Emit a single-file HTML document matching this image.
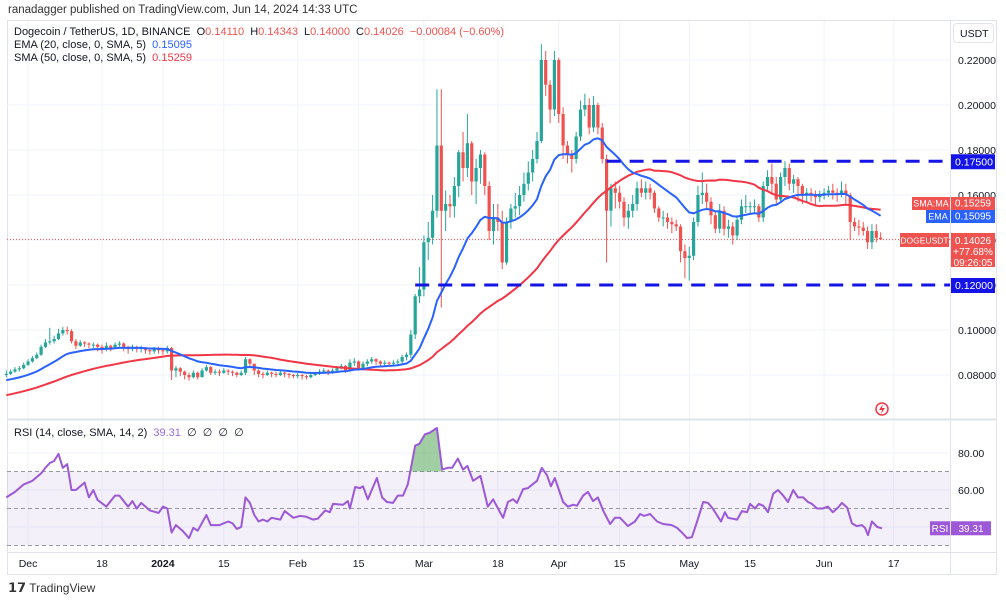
<!DOCTYPE html>
<html><head><meta charset="utf-8">
<style>
body{margin:0;background:#fff;font-family:"Liberation Sans",sans-serif;}
#wrap{position:relative;width:1006px;height:600px;overflow:hidden;background:#fff}
.t{position:absolute;font-size:11px;color:#131722;white-space:nowrap}
</style></head><body>
<div id="wrap">
<div class="t" style="left:8px;top:4px;font-size:11.5px;color:#333">ranadagger published on TradingView.com, Jun 14, 2024 14:33 UTC</div>
<svg id="svg" width="1006" height="600" style="position:absolute;left:0;top:0"></svg>
<div class="t" style="left:14px;top:26px">Dogecoin / TetherUS, 1D, BINANCE&nbsp; O<span style="color:#ef5350">0.14110</span>&nbsp; H<span style="color:#ef5350">0.14343</span>&nbsp; L<span style="color:#ef5350">0.14000</span>&nbsp; C<span style="color:#ef5350">0.14026&nbsp; −0.00084 (−0.60%)</span></div>
<div class="t" style="left:14px;top:39px">EMA (20, close, 0, SMA, 5)&nbsp; <span style="color:#2962ff">0.15095</span></div>
<div class="t" style="left:14px;top:52px">SMA (50, close, 0, SMA, 5)&nbsp; <span style="color:#f23645">0.15259</span></div>
<div class="t" style="left:14px;top:426px">RSI (14, close, SMA, 14, 2)&nbsp; <span style="color:#9c6ade">39.31</span>&nbsp; ∅&nbsp; ∅&nbsp; ∅&nbsp; ∅</div>
<div class="t" style="left:8px;top:580px;font-size:12px;color:#333"><b style="font-size:13px">𝟭𝟳</b> TradingView</div>
</div>
<script>
const closes=[.0805,.0815,.0825,.0830,.0845,.0860,.0875,.0890,.0925,.0945,.0950,.0960,.0985,.1000,.0995,.0950,
.0930,.0945,.0940,.0935,.0935,.0925,.0915,.0930,.0920,.0935,.0940,.0925,.0915,.0925,.0915,.0920,.0910,.0905,.0915,.0910,
.0905,.0920,.0820,.0830,.0815,.0800,.0790,.0810,.0790,.0820,.0835,.0810,.0815,.0810,.0820,.0815,.0810,.0800,.0810,
.0870,.0850,.0820,.0805,.0800,.0810,.0805,.0800,.0810,.0805,.0800,.0795,.0800,.0795,.0790,.0800,.0805,.0815,.0820,.0815,.0820,.0830,.0840,.0820,.0855,.0860,.0830,.0850,.0860,.0870,.0860,.0850,.0855,.0850,.0855,.0860,.0880,
.0890,.0980,.1150,.1180,.1390,.1410,.1530,.1820,.1530,.1560,.1550,.1640,.1790,.1720,.1830,.1660,.1720,.1780,.1640,.1440,
.1500,.1480,.1300,.1480,.1540,.1550,.1600,.1650,.1700,.1760,.1840,.2200,.2090,.1980,.2200,.1960,.1820,.1780,.1760,.1860,.1980,.2000,.1900,.2000,.1900,.1760,.1530,.1630,.1610,.1570,.1500,.1530,.1560,.1630,.1610,.1630,.1610,.1540,.1500,.1500,.1480,.1470,.1460,.1350,.1320,.1330,.1480,.1600,.1610,.1570,.1510,.1450,.1530,.1450,.1460,.1420,.1490,.1550,.1550,.1550,.1550,.1500,.1640,.1680,.1650,.1580,.1680,.1720,.1650,.1670,.1640,.1600,.1610,.1600,.1590,
.1600,.1610,.1620,.1610,.1600,.1620,.1600,.1480,.1460,.1455,.1440,.1390,.1440,.1410,.1403];
const highs=[.0820,.0825,.0835,.0840,.0855,.0870,.0885,.0900,.0935,.0960,.1010,.0975,.1005,.1013,.1015,.1003,
.0960,.0955,.0950,.0945,.0945,.0940,.0935,.0945,.0935,.0945,.0950,.0945,.0930,.0935,.0930,.0930,.0925,.0920,.0925,.0925,
.0920,.0930,.0925,.0840,.0835,.0820,.0810,.0820,.0815,.0830,.0845,.0840,.0825,.0825,.0830,.0825,.0820,.0815,.0820,
.0880,.0875,.0850,.0825,.0815,.0820,.0815,.0815,.0820,.0815,.0810,.0805,.0810,.0805,.0800,.0810,.0815,.0825,.0830,.0825,.0830,.0840,.0850,.0845,.0870,.0875,.0865,.0860,.0870,.0880,.0875,.0865,.0865,.0860,.0865,.0870,.0890,
.0900,.1000,.1160,.1280,.1420,.1480,.1600,.2070,.2070,.1620,.1600,.1680,.1800,.1880,.1960,.1840,.1760,.1800,.1790,.1660,
.1560,.1560,.1530,.1500,.1560,.1610,.1640,.1700,.1750,.1800,.1880,.2270,.2240,.2110,.2240,.2210,.1990,.1840,.1800,.1880,.2020,.2050,.2030,.2040,.2010,.1920,.1780,.1650,.1660,.1640,.1590,.1560,.1600,.1660,.1670,.1660,.1650,.1620,.1550,.1530,.1520,.1500,.1490,.1470,.1380,.1370,.1500,.1640,.1700,.1650,.1590,.1530,.1560,.1550,.1490,.1480,.1510,.1580,.1600,.1570,.1580,.1560,.1660,.1710,.1740,.1680,.1700,.1750,.1740,.1690,.1680,.1650,.1630,.1630,.1620,
.1620,.1630,.1640,.1650,.1630,.1660,.1650,.1610,.1500,.1490,.1480,.1460,.1470,.1470,.1434];
const lows=[.0790,.0800,.0810,.0815,.0825,.0840,.0855,.0870,.0885,.0920,.0935,.0940,.0955,.0975,.0980,.0940,
.0915,.0925,.0925,.0920,.0920,.0905,.0895,.0905,.0905,.0915,.0925,.0905,.0895,.0905,.0900,.0900,.0895,.0890,.0895,.0895,
.0890,.0895,.0778,.0790,.0795,.0780,.0775,.0785,.0780,.0790,.0815,.0800,.0800,.0795,.0805,.0800,.0795,.0790,.0795,
.0800,.0835,.0800,.0790,.0785,.0795,.0790,.0790,.0795,.0790,.0785,.0785,.0785,.0780,.0780,.0785,.0795,.0800,.0805,.0800,.0805,.0815,.0825,.0810,.0815,.0840,.0820,.0820,.0840,.0850,.0845,.0835,.0840,.0840,.0840,.0845,.0850,
.0865,.0875,.0960,.1120,.1150,.1310,.1380,.1500,.1100,.1440,.1500,.1500,.1590,.1660,.1680,.1600,.1560,.1650,.1600,.1400,
.1380,.1440,.1270,.1290,.1450,.1500,.1510,.1570,.1620,.1660,.1740,.1830,.2040,.1920,.1950,.1920,.1760,.1740,.1700,.1740,.1840,.1950,.1870,.1880,.1870,.1740,.1300,.1460,.1540,.1540,.1460,.1450,.1500,.1530,.1590,.1580,.1580,.1520,.1480,.1460,.1450,.1430,.1440,.1300,.1230,.1220,.1310,.1460,.1560,.1540,.1470,.1430,.1430,.1420,.1410,.1380,.1400,.1470,.1520,.1520,.1520,.1480,.1480,.1620,.1610,.1560,.1570,.1640,.1620,.1610,.1570,.1560,.1570,.1570,.1550,
.1570,.1580,.1590,.1580,.1570,.1590,.1560,.1400,.1440,.1420,.1420,.1360,.1360,.1390,.1400];
const priorCloses=[.0605,.0610,.0600,.0598,.0602,.0606,.0612,.0608,.0603,.0600,.0610,.0615,.0612,.0620,.0625,.0630,.0640,.0660,.0670,.0665,
.0680,.0690,.0700,.0720,.0740,.0760,.0750,.0730,.0740,.0755,.0765,.0770,.0790,.0780,.0770,.0765,.0760,.0770,.0775,.0780,.0790,.0785,.0780,.0790,.0800,.0805,.0795,.0790,.0785,.0800];
const rsiDay=[0,2,4,6,8,9,10,11,12,13,14,15,16,18,19,20,21,23,25,26,28,29,30,31,33,35,36,37,38,39,40.5,42,43,44,46,47,49,51,52,53,54,55,56,57,58,59,60,61,63,64,66,67.5,69,70.5,71.6,73.3,74.4,75.1,77.4,78.5,79,80.2,81.3,82,83.1,85.2,86.4,87.5,88.9,90,91.2,92.3,94,95,96.2,97.4,99,100.2,101.5,102.5,103.8,105,106,107.3,109,110.7,111.9,113.5,114.2,115.3,116.5,117.4,118.8,119.9,122,123.1,124.3,125.2,126.1,128,129.1,130.3,131.2,132.6,133.7,134.9,136,137.2,138.8,139.9,141.1,142.9,144.5,145.7,146.6,148,149.6,151,153,154.2,155.3,156.5,157.6,158.8,160.2,161.3,162.4,164.3,165.2,165.9,168,169.1,170.3,171,172.1,173,174,175.1,176.3,177.4,178.6,179.7,180.9,182,183.2,184.3,185.2,186.4,187.7,188.9,190,191.2,192.1,193.3,194.4,195.5,196.7,197.4,198.1,199,200.2,201.3];
const rsiVal=[56,59,63,65,69,72,74.6,75.7,79.5,72,74,60,60,64,56,60,54.6,51,57,57,51,54,50,53,49,47.6,51,50,37,41,38,34,39.5,38,46.5,41,41,43,42,39,40,56,53,46.5,43,44,43,45,44,48.6,45,46,45.5,44,44.5,49,48,52.5,52,54,50,61.6,61,62,55,66.5,56,53.5,53,57,57,63,84,85,90,91,93.5,71,72,72,77,71,73,65,67.6,51,55,48,45,53.5,55,53,60.5,61,65,72,68,62,66.5,53.5,51,52,51.5,57,59,54,56,49,41.6,45,45,40.5,43,47,46,47,43,41.6,41,39.5,37,34,34.5,43,53.5,53,50,43,48,45,44,48.6,48,52.5,50,52.5,51.5,48,58,60,57,53.5,60,56,56,53.5,52.5,50,50,51,48,50.5,53,50.5,42,40.5,41,39.5,35.6,43,40,39.31];
const priceTicks=[0.22,0.20,0.18,0.16,0.14,0.12,0.10,0.08];
const rsiTicks=[80,60];
const timeLabels=["Dec","18","2024","15","Feb","15","Mar","18","Apr","15","May","15","Jun","17"];
const timeIdx=[5,22,36,50,67,81,96,113,127,141,157,171,188,204];
const levels=[0.175,0.12];
const levelStart=[138,94];

const NS="http://www.w3.org/2000/svg";
const svg=document.getElementById('svg');
function el(tag,attrs,parent){const e=document.createElementNS(NS,tag);for(const k in attrs)e.setAttribute(k,attrs[k]);(parent||svg).appendChild(e);return e;}
const X=i=>6.3+i*4.35;
const Y=p=>240-(p-0.14)*2250;
const RY=v=>490-(v-60)*1.85;
const L=7,R=950;

const frame=el('rect',{x:7.5,y:20.5,width:989,height:554,fill:'none',stroke:'#e0e3eb'});

timeIdx.forEach((ix,k)=>{const g=el('line',{x1:X(ix),x2:X(ix),y1:21,y2:552,stroke:'#f0f3fa'});
});
priceTicks.forEach(p=>{const g=el('line',{x1:L,x2:R,y1:Y(p),y2:Y(p),stroke:'#f0f3fa'});
});
[80,60,40].forEach(v=>{const g=el('line',{x1:L,x2:R,y1:RY(v),y2:RY(v),stroke:'#f0f3fa'});
});
let s=el('line',{x1:950.5,x2:950.5,y1:20,y2:574,stroke:'#e0e3eb'});
s=el('line',{x1:7,x2:997,y1:419.5,y2:419.5,stroke:'#e0e3eb','stroke-width':2});
s=el('line',{x1:7,x2:997,y1:552.5,y2:552.5,stroke:'#e0e3eb'});

priceTicks.forEach(p=>{const t=el('text',{x:958,y:Y(p)+4,'font-size':'10.5',fill:'#131722'});t.textContent=p.toFixed(5);
});
let u=el('rect',{x:953.5,y:23.5,width:40,height:19,rx:3,fill:'#fff',stroke:'#e0e3eb'});
u=el('text',{x:960,y:37,'font-size':'10.5',fill:'#131722'});u.textContent='USDT';
timeLabels.forEach((lb,k)=>{const t=el('text',{x:X(timeIdx[k]),y:567,'font-size':'10.5',fill:'#131722','text-anchor':'middle','font-weight':lb==='2024'?'bold':'normal'});t.textContent=lb;
});

s=el('line',{x1:L,x2:R,y1:Y(0.14026),y2:Y(0.14026),stroke:'#ef5350','stroke-dasharray':'1 2','stroke-width':1});


let prev=priorCloses[priorCloses.length-1];
closes.forEach((c,i)=>{const o=prev;prev=c;const up=c>=o;const col=up?'#26a69a':'#ef5350';const x=X(i);
const w=el('line',{x1:x,x2:x,y1:Y(Math.max(highs[i],o,c)),y2:Y(Math.min(lows[i],o,c)),stroke:col,'stroke-width':1});

const top=Y(Math.max(o,c)),h=Math.max(1,Math.abs(Y(o)-Y(c)));
const b=el('rect',{x:x-1.6,y:top,width:3.2,height:h,fill:col});
});

const all=priorCloses.concat(closes);const P=priorCloses.length;
let ema=all.slice(0,20).reduce((a,b)=>a+b,0)/20;const emaArr=[];
for(let j=20;j<all.length;j++){ema=all[j]*2/21+ema*19/21;if(j>=P)emaArr.push(ema);}
const smaArr=[];for(let j=P;j<all.length;j++){let s2=0;for(let k=j-49;k<=j;k++)s2+=all[k];smaArr.push(s2/50);}
function pathOf(arr,fy){return arr.map((v,i)=>(i?'L':'M')+X(i).toFixed(1)+' '+fy(v).toFixed(1)).join(' ');}
s=el('path',{d:pathOf(smaArr,Y),fill:'none',stroke:'#f23645','stroke-width':2});
s=el('path',{d:pathOf(emaArr,Y),fill:'none',stroke:'#2962ff','stroke-width':2});

levels.forEach((lv,k)=>{const ln=el('line',{x1:X(levelStart[k]),x2:R,y1:Y(lv),y2:Y(lv),stroke:'#1414e6','stroke-width':3,'stroke-dasharray':'14 9'});

const r=el('rect',{x:951,y:Y(lv)-7,width:44,height:15,fill:'#1414e6'});
const t=el('text',{x:955,y:Y(lv)+4,'font-size':'10.5',fill:'#fff'});t.textContent=lv.toFixed(5);});

function badge(x,y,w,h,fill,txt,name,fs){const r=el('rect',{x:x,y:y,width:w,height:h,fill:fill});
const t=el('text',{x:x+w/2,y:y+h-3.5,'font-size':fs||'10.5',fill:'#fff','text-anchor':'middle'});t.textContent=txt;}
badge(912,197,38,13,'#ef5350','SMA:MA','sma-axis-tag','9');badge(951,197,44,13,'#ef5350','0.15259','sma-axis-value','10');
badge(926,210,24,13,'#2962ff','EMA','ema-axis-tag','9');badge(951,210,44,13,'#2962ff','0.15095','ema-axis-value','10');
badge(900,233,49,14,'#ef5350','DOGEUSDT','symbol-axis-tag','8.5');
u=el('rect',{x:951,y:233,width:44,height:34,fill:'#ef5350'});
['0.14026','+77.68%','09:26:05'].forEach((tx,k)=>{const t=el('text',{x:973,y:244+k*11,'font-size':'10',fill:'#fff','text-anchor':'middle'});t.textContent=tx;});
u=el('circle',{cx:882,cy:409,r:6,fill:'none',stroke:'#f23645','stroke-width':1.5});
u=el('path',{d:'M883 404 L879 410 L882 410 L881 414 L885 408 L882 408 Z',fill:'#f23645'});

// RSI
u=el('rect',{x:L,y:RY(70),width:R-L,height:RY(30)-RY(70),fill:'#7e57c2','fill-opacity':0.09});
[70,50,30].forEach(v=>{const g=el('line',{x1:L,x2:R,y1:RY(v),y2:RY(v),stroke:'#9598a1','stroke-dasharray':'4 3'});});
// overbought fill: runs above 70 that exceed 80, cut just after the peak
let runs=[],cur=null;
rsiVal.forEach((v,k)=>{if(v>70){if(!cur){cur=[];runs.push(cur);}cur.push(k);}else cur=null;});
runs.forEach(run=>{const vals=run.map(k=>rsiVal[k]);const mx=Math.max(...vals);if(mx<=80)return;
const pk=run[vals.indexOf(mx)];
const a=run[0];const ka=a>0?a-1:a;
const xa=X(rsiDay[ka]+(rsiDay[a]-rsiDay[ka])*(70-rsiVal[ka])/((rsiVal[a]-rsiVal[ka])||1));
const nx=pk+1;
const xb=X(rsiDay[pk]+(rsiDay[nx]-rsiDay[pk])*(rsiVal[pk]-70)/((rsiVal[pk]-rsiVal[nx])||1));
let d='M'+xa+' '+RY(70);run.filter(k=>k<=pk).forEach(k=>{d+=' L'+X(rsiDay[k])+' '+RY(rsiVal[k]);});d+=' L'+Math.min(xb,X(rsiDay[nx]))+' '+RY(70)+' Z';
const f=el('path',{d:d,fill:'#43a047','fill-opacity':0.5});});
const rd=rsiVal.map((v,k)=>(k?'L':'M')+X(rsiDay[k]).toFixed(1)+' '+RY(v).toFixed(1)).join(' ');
u=el('path',{d:rd,fill:'none',stroke:'#9c58d6','stroke-width':2,'stroke-linejoin':'round'});
rsiTicks.forEach(v=>{const t=el('text',{x:958,y:RY(v)+4,'font-size':'10.5',fill:'#131722'});t.textContent=v.toFixed(2);});
const lastR=rsiVal[rsiVal.length-1];
badge(930,RY(lastR)-7,20,14,'#9c58d6','RSI','rsi-axis-tag','10');badge(951,RY(lastR)-7,40,14,'#9c58d6',lastR.toFixed(2),'rsi-axis-value','10');
</script>
</body></html>
